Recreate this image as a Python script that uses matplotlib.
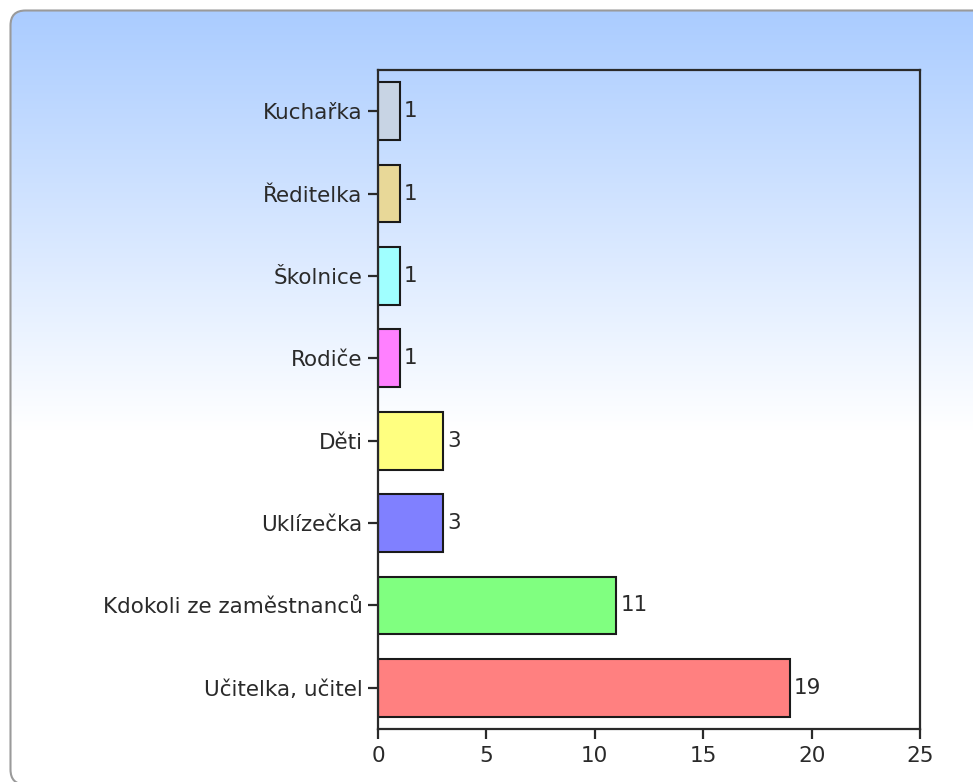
import matplotlib
matplotlib.use('Agg')
import matplotlib.pyplot as plt
import numpy as np
from matplotlib.patches import FancyBboxPatch

categories = ['Učitelka, učitel', 'Kdokoli ze zaměstnanců', 'Uklízečka', 'Děti',
              'Rodiče', 'Školnice', 'Ředitelka', 'Kuchařka']
values = [19, 11, 3, 3, 1, 1, 1, 1]
colors = ['#ff8080', '#80ff80', '#8080ff', '#ffff80',
          '#ff80ff', '#a0ffff', '#e8d898', '#c8d4e4']
xticks = [0, 5, 10, 15, 20, 25]

plt.rcParams['font.family'] = ['DejaVu Sans']
FS = 15.5

W, H = 973, 782
fig = plt.figure(figsize=(W / 100, H / 100), dpi=100)

# background with gradient and rounded border (pixel coords, y up)
bg = fig.add_axes([0, 0, 1, 1])
bg.set_xlim(0, W)
bg.set_ylim(0, H)
bg.axis('off')
rows = np.arange(H)  # row 0 = top of image
t = np.clip((rows - 10) / (430 - 10), 0, 1)
top = np.array([170, 204, 255]) / 255
grad = top[None, :] * (1 - t[:, None]) + t[:, None]
img = np.repeat(grad[:, None, :], 2, axis=1)
im = bg.imshow(img, extent=[0, W, 0, H], origin='upper', aspect='auto',
               interpolation='bilinear')
patch = FancyBboxPatch((10.5, -2.5), 1000, H - 10.5 + 2.5,
                       boxstyle='round,pad=0,rounding_size=15',
                       fc='none', ec='#9a9a9a', lw=1.5, transform=bg.transData)
bg.add_patch(patch)
im.set_clip_path(patch)

ax = fig.add_axes([378 / W, 1 - 729 / H, (920 - 378) / W, (729 - 70) / H])
ax.set_facecolor('none')
ypos = np.arange(len(categories))
bars = ax.barh(ypos, values, height=0.7, color=colors, edgecolor='#1a1a1a', linewidth=1.5)
ax.set_xlim(0, 25)
ax.set_ylim(-0.5, 7.5)
ax.set_yticks(ypos)
ax.set_yticklabels(categories)
ax.set_xticks(xticks)
ax.set_xticklabels([str(x) for x in xticks])
for s in ax.spines.values():
    s.set_color('#2a2a2a')
    s.set_linewidth(1.6)
ax.tick_params(axis='both', direction='out', length=7, width=1.6, color='#2a2a2a',
               labelsize=FS, labelcolor='#2a2a2a')
ax.tick_params(axis='x', pad=5)
ax.tick_params(axis='y', pad=4)
ax.bar_label(bars, labels=[str(v) for v in values], padding=3, fontsize=FS, color='#2a2a2a')

fig.savefig('out.png', dpi=100)
